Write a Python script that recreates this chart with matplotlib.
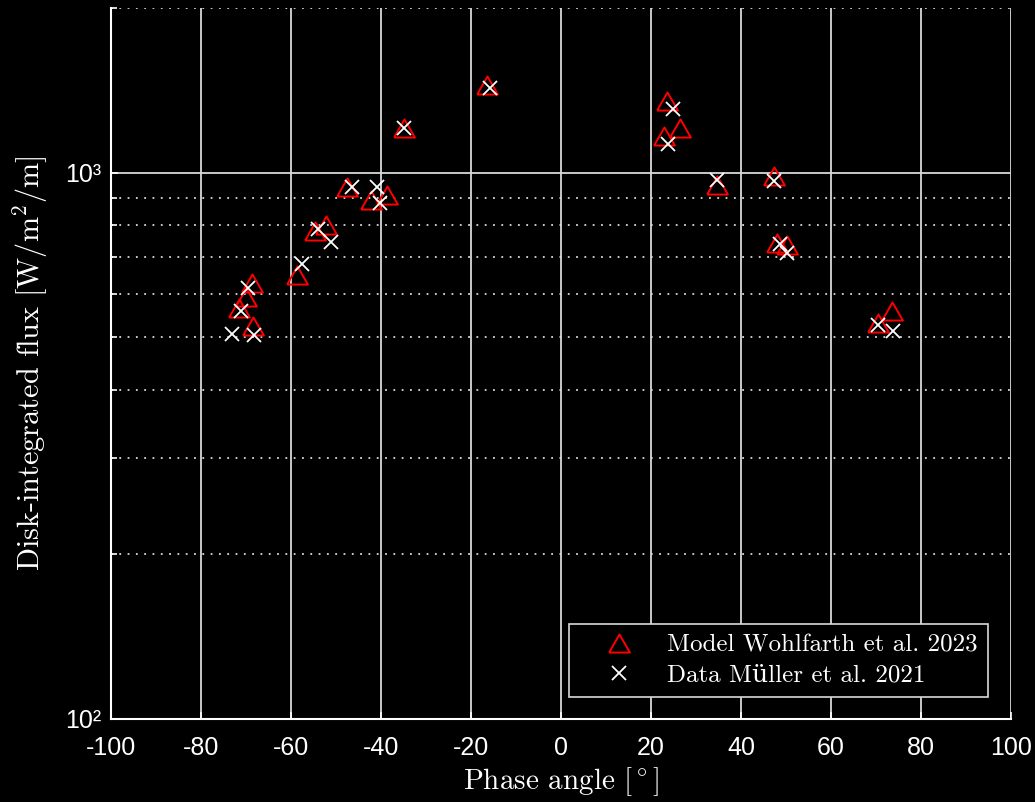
import numpy as np
import matplotlib
matplotlib.use('Agg')
import matplotlib.pyplot as plt
from matplotlib.ticker import FixedLocator, FuncFormatter, NullFormatter

plt.rcParams['mathtext.fontset'] = 'cm'

# thermal model (Wohlfarth et al. 2023)
model_phase = [-71.6, -70.1, -68.7, -68.4, -58.7, -54.7, -52.2, -47.6, -42.3, -38.7,
               -34.9, -16.4, 22.8, 23.6, 26.4, 34.6, 47.4, 48.0, 50.3, 70.5, 73.6]
model_flux = [564, 591, 628, 524, 650, 781, 802, 941, 890, 908,
              1204, 1446, 1168, 1354, 1204, 948, 986, 744, 736, 531, 558]

# observations (Mueller et al. 2021)
data_phase = [-73.1, -71.0, -69.5, -68.2, -57.6, -54.0, -51.2, -46.5, -40.9, -40.2,
              -34.9, -15.7, 23.7, 24.8, 34.6, 47.4, 48.6, 50.3, 70.5, 73.8]
data_flux = [506, 557, 614, 504, 681, 789, 746, 941, 941, 880,
             1208, 1430, 1130, 1305, 971, 964, 741, 713, 527, 513]

xticks = np.arange(-100, 101, 20)

serif = ['cmr10', 'DejaVu Serif']
sans = 'Liberation Sans'
fg = '#d9d9d9'

fig = plt.figure(figsize=(10.35, 8.02), dpi=100, facecolor='black')
ax = fig.add_axes([0.1072, 0.1035, 0.8696, 0.8865], facecolor='black')

# slightly flattened triangle
tri = [(-1, -0.87), (1, -0.87), (0, 0.87), (-1, -0.87)]

ax.plot(model_phase, model_flux, linestyle='none', marker=tri, ms=15,
        mfc='none', mec='red', mew=1.4, label='Model Wohlfarth et al. 2023')
ax.plot(data_phase, data_flux, linestyle='none', marker='x', ms=10,
        mec='white', mew=1.3, label='Data M\u00fcller et al. 2021')

ax.set_yscale('log')
ax.set_xlim(-100, 100)
ax.set_ylim(100, 2000)
ax.set_xticks(xticks)
ax.xaxis.set_major_formatter(FuncFormatter(lambda v, p: f'{v:.0f}'))
ax.yaxis.set_major_locator(FixedLocator([100, 1000]))
ax.yaxis.set_major_formatter(FuncFormatter(
    lambda v, p: {100: '10\u00b2', 1000: '10\u00b3'}.get(int(round(v)), '')))
ax.yaxis.set_minor_locator(FixedLocator([200, 300, 400, 500, 600, 700, 800, 900, 2000]))
ax.yaxis.set_minor_formatter(NullFormatter())

ax.grid(True, which='major', color=fg, linewidth=1.3, linestyle='-')
ax.grid(True, which='minor', axis='y', color=fg, linewidth=1.3, linestyle=(0, (1, 3.6)))
ax.set_axisbelow(True)

for s in ['top', 'right']:
    ax.spines[s].set_visible(False)
for s in ['left', 'bottom']:
    ax.spines[s].set_color('white')
    ax.spines[s].set_linewidth(1.5)

ax.tick_params(which='both', direction='in', colors='white', width=1.2)
ax.tick_params(which='major', length=5)
ax.tick_params(which='minor', length=4)
ax.tick_params(axis='x', pad=12, labelsize=18)
ax.tick_params(axis='y', pad=7, labelsize=18)
for lab in ax.get_xticklabels() + ax.get_yticklabels():
    lab.set_fontfamily(sans)

ax.set_xlabel(r'Phase angle $[^\circ]$', family=serif, fontsize=21, color='white', labelpad=4)
ax.set_ylabel(r'Disk-integrated flux $[\mathrm{W/m^2/m}]$', family=serif, fontsize=21.8,
              color='white', labelpad=10)

leg = ax.legend(loc='lower right', bbox_to_anchor=(0.974, 0.031), borderaxespad=0,
                prop={'family': serif, 'size': 18}, facecolor='black', edgecolor=fg,
                fancybox=False, framealpha=1, handlelength=3.2, handletextpad=0.3,
                borderpad=0.4, labelspacing=0.3)
leg.get_frame().set_linewidth(1.2)
for t in leg.get_texts():
    t.set_color('white')

fig.savefig('out.png', dpi=100, facecolor='black')
